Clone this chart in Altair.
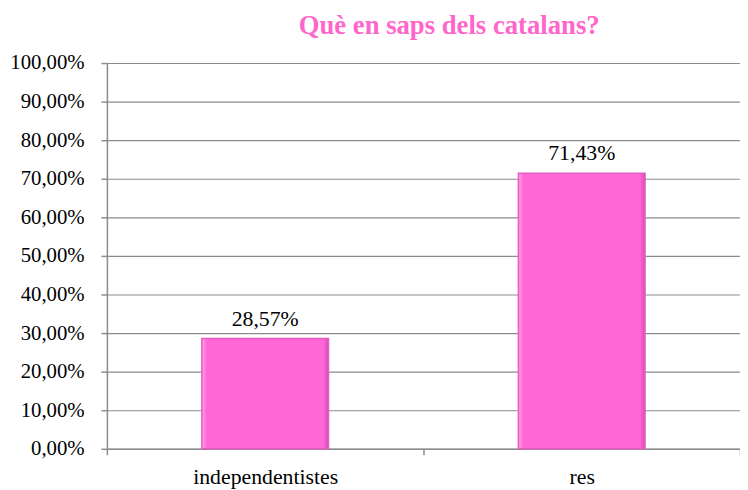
import altair as alt
import pandas as pd

categories = ["independentistes", "res"]
values = [28.57, 71.43]
value_labels = ["28,57%", "71,43%"]
y_tick_step = 10

df = pd.DataFrame({"cat": categories, "val": values, "lab": value_labels})

FONT = "Liberation Serif"

x_enc = alt.X(
    "cat:N",
    sort=categories,
    title=None,
    scale=alt.Scale(paddingInner=0, paddingOuter=0),
    axis=alt.Axis(
        labelAngle=0,
        labelFont=FONT,
        labelFontSize=22,
        labelColor="#000000",
        labelPadding=12,
        tickBand="extent",
        tickSize=6,
        tickColor="#8c8c8c",
        tickWidth=1.5,
        domainColor="#8c8c8c",
        domainWidth=1.5,
        grid=False,
    ),
)

y_enc = alt.Y(
    "val:Q",
    title=None,
    scale=alt.Scale(domain=[0, 100], nice=False, zero=True),
    axis=alt.Axis(
        tickCount=11,
        tickMinStep=y_tick_step,
        labelExpr="replace(format(datum.value, '.2f'), '.', ',') + '%'",
        labelOverlap=False,
        labelFont=FONT,
        labelFontSize=21,
        labelColor="#000000",
        labelPadding=17,
        tickSize=6,
        tickColor="#8c8c8c",
        tickWidth=1.5,
        domainColor="#8c8c8c",
        domainWidth=1.5,
        gridColor="#8c8c8c",
        gridWidth=1.2,
    ),
)

bar_fill = alt.LinearGradient(
    gradient="linear",
    x1=0, y1=0, x2=1, y2=0,
    stops=[
        alt.GradientStop(color="#FFA3E8", offset=0),
        alt.GradientStop(color="#FF66D6", offset=0.04),
        alt.GradientStop(color="#FF66D6", offset=0.96),
        alt.GradientStop(color="#D24FB2", offset=1),
    ],
)

bars = alt.Chart(df).mark_bar(
    color=bar_fill, stroke="#E25CC4", strokeWidth=1.5,
    width=alt.RelativeBandSize(0.4),
).encode(x=x_enc, y=y_enc)

texts = alt.Chart(df).mark_text(
    font=FONT, fontSize=22, color="#000000", baseline="bottom", dy=-8
).encode(x=x_enc, y=y_enc, text="lab:N")

chart = (
    alt.layer(bars, texts)
    .properties(
        width=640,
        height=390,
        title=alt.TitleParams(
            "Què en saps dels catalans?",
            font=FONT,
            fontSize=27,
            fontWeight="bold",
            color="#FF66CC",
            anchor="middle",
            dx=26,
            offset=12,
        ),
        autosize=alt.AutoSizeParams(type="none"),
        padding={"left": 100, "top": 53, "right": 0, "bottom": 39},
    )
    .configure_view(stroke=None)
    .configure(background="#ffffff")
)

chart.save("out.html", embed_options={"renderer": "svg", "actions": False})
